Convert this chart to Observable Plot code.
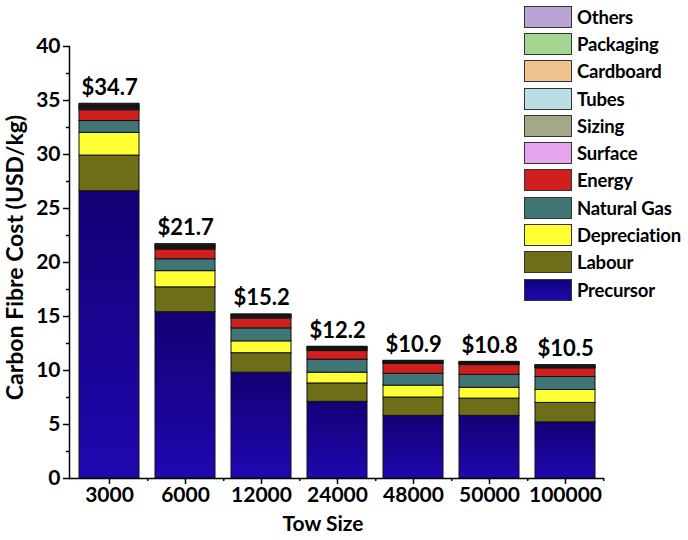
<!DOCTYPE html>
<html>
<head>
<meta charset="utf-8">
<script src="https://cdn.jsdelivr.net/npm/d3@7"></script>
<script src="https://cdn.jsdelivr.net/npm/@observablehq/plot@0.6"></script>
<style>
  html, body { margin: 0; padding: 0; background: #fff; }
  #wrap { position: relative; width: 688px; height: 540px; font-family: Lato, sans-serif; }
  #legend { position: absolute; left: 524px; top: 3px; }
  .row { display: flex; align-items: center; height: 27.3px; }
  .sw { width: 46px; height: 20px; border: 1.5px solid #333; box-sizing: content-box; }
  .lab { margin-left: 5px; font-weight: bold; font-size: 18.5px; color: #000; white-space: nowrap; letter-spacing: -0.2px; }
</style>
</head>
<body>
<div id="wrap"><div id="legend"></div></div>
<script>
const towSizes = ["3000", "6000", "12000", "24000", "48000", "50000", "100000"];
const categories = ["Precursor", "Labour", "Depreciation", "Natural Gas", "Energy", "Surface", "Sizing", "Tubes", "Cardboard", "Packaging", "Others"];
const precursor    = [26.6, 15.4, 9.8, 7.1, 5.8, 5.8, 5.2];
const labour       = [3.3, 2.3, 1.8, 1.7, 1.7, 1.6, 1.8];
const depreciation = [2.1, 1.5, 1.1, 1.0, 1.1, 1.0, 1.2];
const naturalGas   = [1.1, 1.1, 1.2, 1.2, 1.1, 1.2, 1.2];
const energy       = [1.0, 0.9, 0.9, 0.8, 0.9, 0.9, 0.8];
const surface      = [0.1, 0.1, 0.08, 0.08, 0.05, 0.05, 0.05];
const sizing       = [0.1, 0.1, 0.08, 0.08, 0.05, 0.05, 0.05];
const tubes        = [0.1, 0.08, 0.06, 0.06, 0.05, 0.05, 0.05];
const cardboard    = [0.1, 0.08, 0.06, 0.06, 0.05, 0.05, 0.05];
const packaging    = [0.1, 0.08, 0.06, 0.06, 0.05, 0.05, 0.05];
const others       = [0.1, 0.06, 0.06, 0.06, 0.05, 0.05, 0.05];
const totals       = [34.7, 21.7, 15.2, 12.2, 10.9, 10.8, 10.5];
const colors = ["#1a0a96", "#6e6d18", "#ffff33", "#3f7574", "#d11f1f", "#e6a3ee", "#a4a888", "#b9dee6", "#efc18f", "#a3d791", "#baa4d4"];
const yTicks = [0, 5, 10, 15, 20, 25, 30, 35, 40];
const yMinorTicks = [2.5, 7.5, 12.5, 17.5, 22.5, 27.5, 32.5, 37.5];

const seriesValues = [precursor, labour, depreciation, naturalGas, energy, surface, sizing, tubes, cardboard, packaging, others];
const rows = [];
towSizes.forEach((t, i) => {
  categories.forEach((c, k) => rows.push({tow: t, category: c, value: seriesValues[k][i]}));
});
const labels = towSizes.map((t, i) => ({tow: t, total: totals[i]}));

const W = 688, H = 540, ML = 69, MR = 84, MT = 46, MB = 62;
const step = (W - ML - MR) / towSizes.length;

const chart = Plot.plot({
  width: W, height: H,
  marginLeft: ML, marginRight: MR, marginTop: MT, marginBottom: MB,
  style: {fontFamily: "Lato, sans-serif", fontSize: "21px", fontWeight: "bold", color: "#000", background: "#fff"},
  x: {domain: towSizes, paddingInner: 0.215, paddingOuter: 0.1075},
  y: {domain: [0, 40]},
  color: {domain: categories, range: colors},
  marks: [
    Plot.barY(rows, {x: "tow", y: "value", fill: "category", stroke: "#111", strokeWidth: 1}),
    Plot.text(labels, {x: "tow", y: "total", text: d => "$" + d.total.toFixed(1), dy: -9, lineAnchor: "bottom", fontSize: 22, fontWeight: "bold", fill: "#000"}),
    Plot.axisY({ticks: yTicks, tickSize: 6, tickPadding: 3, label: null, stroke: "#000", strokeWidth: 1.5}),
    Plot.axisY({ticks: yMinorTicks, tickSize: 3, text: null, label: null, stroke: "#000", strokeWidth: 1.5}),
    Plot.axisX({tickSize: 6, tickPadding: 3, label: null, stroke: "#000", strokeWidth: 1.5}),
    Plot.ruleX(towSizes, {x: d => d, y1: 0, y2: 0, dx: step / 2, insetBottom: -3, stroke: "#000", strokeWidth: 1.5}),
    Plot.ruleY([0], {stroke: "#000", strokeWidth: 1.5}),
    Plot.frame({anchor: "left", stroke: "#000", strokeWidth: 1.5}),
    Plot.text(["Tow Size"], {frameAnchor: "bottom", dy: 46, dx: -14, lineAnchor: "middle", text: d => d, fontSize: 21, fontWeight: "bold", fill: "#000"}),
    Plot.text(["Carbon Fibre Cost (USD/kg)"], {frameAnchor: "left", textAnchor: "middle", lineAnchor: "middle", dx: -54, dy: -5, rotate: -90, text: d => d, fontSize: 23, fontWeight: "bold", fill: "#000"})
  ]
});

// gradient for precursor bars
const svg = d3.select(chart);
const defs = svg.insert("defs", ":first-child");
const g = defs.append("linearGradient").attr("id", "precGrad").attr("x1", 0).attr("y1", 0).attr("x2", 0).attr("y2", 1);
g.append("stop").attr("offset", "0%").attr("stop-color", "#140074");
g.append("stop").attr("offset", "100%").attr("stop-color", "#1e08b0");
svg.selectAll("rect").filter(function() { return (this.getAttribute("fill") || "").toLowerCase() === colors[0]; }).attr("fill", "url(#precGrad)");

document.getElementById("wrap").prepend(chart);

// legend
const legend = d3.select("#legend");
categories.slice().reverse().forEach(c => {
  const i = categories.indexOf(c);
  const row = legend.append("div").attr("class", "row");
  const sw = row.append("div").attr("class", "sw");
  if (i === 0) sw.style("background", "linear-gradient(#0c0080, #1e0aa8)");
  else sw.style("background", colors[i]);
  row.append("div").attr("class", "lab").text(c);
});
</script>
</body>
</html>
